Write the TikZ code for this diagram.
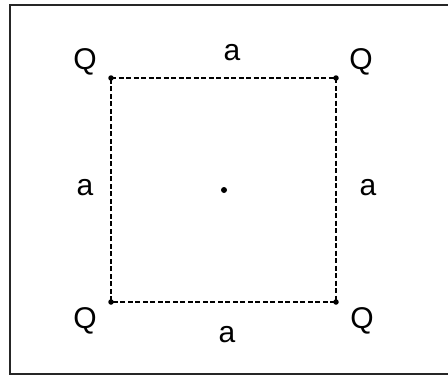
\documentclass[tikz,border=0pt]{standalone}
\usepackage{fontspec}
\setmainfont{Liberation Sans}
\begin{document}
\begin{tikzpicture}[x=1pt,y=-1pt,
  frame/.style={line width=1.8pt,draw=black!85},
  side/.style={line width=2pt,dash pattern=on 5pt off 2.5pt},
  lbl/.style={inner sep=0pt,font=\fontsize{30}{36}\selectfont},
  dot/.style={circle,fill=black,inner sep=0pt,minimum size=5.5pt}]
\useasboundingbox (0,0) rectangle (448,376);
\fill[white] (0,0) rectangle (448,376);
\coordinate (fa) at (452,5);
\coordinate (fb) at (10,5);
\coordinate (fc) at (10,374);
\coordinate (fd) at (452,374);
\draw[frame] (fa) -- (fb) -- (fc) -- (fd);
\node[dot] (tl) at (111,78) {};
\node[dot] (tr) at (336,78) {};
\node[dot] (br) at (336,302) {};
\node[dot] (bl) at (111,302) {};
\node[dot,minimum size=6pt] (c) at (224,190) {};
\draw[side] (tl.center) -- (tr.center) -- (br.center) -- (bl.center) -- cycle;
\node[lbl] (q1) at (85,62) {Q};
\node[lbl] (q2) at (361,62) {Q};
\node[lbl] (q3) at (85,321) {Q};
\node[lbl] (q4) at (362,321) {Q};
\node[lbl] (a1) at (232,53) {a};
\node[lbl] (a2) at (85,188) {a};
\node[lbl] (a3) at (368,188) {a};
\node[lbl] (a4) at (227,335) {a};
\end{tikzpicture}
\end{document}
